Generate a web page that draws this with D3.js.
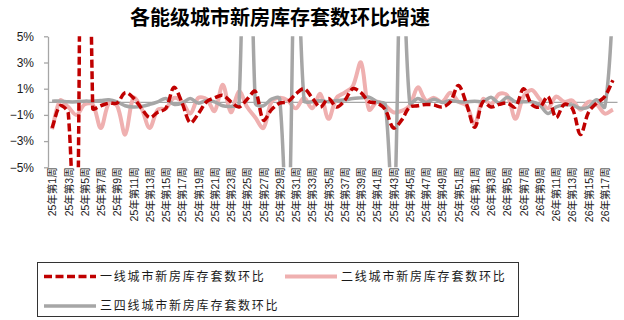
<!DOCTYPE html>
<html>
<head>
<meta charset="utf-8">
<script src="https://cdn.jsdelivr.net/npm/d3@7"></script>
<style>
  body { margin: 0; background: #fff; }
  svg { display: block; }
</style>
</head>
<body>
<svg id="chart" width="624" height="320"></svg>
<script>
// ---- data ----
const chartTitle = "各能级城市新房库存套数环比增速";

const categories = [
  "25年第1周","25年第2周","25年第3周","25年第4周","25年第5周","25年第6周","25年第7周","25年第8周","25年第9周","25年第10周",
  "25年第11周","25年第12周","25年第13周","25年第14周","25年第15周","25年第16周","25年第17周","25年第18周","25年第19周","25年第20周",
  "25年第21周","25年第22周","25年第23周","25年第24周","25年第25周","25年第26周","25年第27周","25年第28周","25年第29周","25年第30周",
  "25年第31周","25年第32周","25年第33周","25年第34周","25年第35周","25年第36周","25年第37周","25年第38周","25年第39周","25年第40周",
  "25年第41周","25年第42周","25年第43周","25年第44周","25年第45周","25年第46周","25年第47周","25年第48周","25年第49周","25年第50周",
  "25年第51周","25年第52周","26年第1周","26年第2周","26年第3周","26年第4周","26年第5周","26年第6周","26年第7周","26年第8周",
  "26年第9周","26年第10周","26年第11周","26年第12周","26年第13周","26年第14周","26年第15周","26年第16周","26年第17周","26年第18周"
];

// week-on-week change of new-home inventory units, %
const tier1 = [
  -2.0, -0.3, -0.9, -16, 60, -0.5, -0.3, -0.1, -0.1, 0.7,
  0.3, -0.5, -1.2, -0.8, -0.5, 1.1, -0.1, -1.6, -0.9, 0.0,
  0.3, 0.5, 0.0, -0.4, 0.2, 0.8, -1.4, -0.6, -0.1, 0.0,
  0.6, 1.0, 0.3, -0.4, 0.25, -0.4, 0.1, 1.0, 0.7, 0.0,
  -0.1, -0.6, -2.0, -1.4, -0.4, -0.3, -0.2, -0.25, -0.4, 0.0,
  1.25, -0.2, -1.95, 0.0, -0.4, -0.2, -0.1, -0.4, 1.0, -0.2,
  -0.4, 0.4, -1.2, -0.2, -0.5, -2.5, -0.8, -0.1, 0.4, 1.65
];
const tier2 = [
  -2.1, 0.1, -0.4, -1.0, -0.2, -0.2, -2.0, -0.1, -0.3, -2.5,
  0.3, -0.5, -2.0, -0.6, -0.5, 0.3, 0.0, -0.9, 0.3, 0.2,
  -0.7, 1.3, -0.8, 0.8, -0.4, -1.2, -2.0, 0.0, 0.3, 0.1,
  -0.5, 0.3, -0.5, 0.6, -1.3, 0.3, 0.7, 1.2, 3.0, -0.6,
  0.0, -0.3, -0.8, -0.7, -0.3, 1.1, 0.1, 0.3, 0.0, 0.7,
  0.0, -0.3, -1.7, 0.2, -0.2, 0.6, 0.5, -1.3, 0.4, 0.9,
  0.2, -0.5, 0.4, 0.0, 0.1, -0.6, 0.0, -0.2, -0.9, -0.6
];
const tier34 = [
  0.05, 0.05, 0.0, 0.0, 0.05, 0.05, 0.1, 0.15, 0.0, -0.3,
  -0.4, -0.35, -0.2, 0.0, 0.25, -0.2, -0.1, 0.25, -0.1, 0.1,
  0.0, -0.3, -0.35, -0.2, 28, -0.1, -0.3, 0.2, 0.25, -12,
  15, 0.1, 0.0, 0.1, 0.0, 0.1, 0.15, 0.25, 0.3, 0.35,
  0.0, -0.2, -10, 13, -0.1, 0.25, -0.05, 0.2, -0.05, 0.1,
  0.0, 0.0, 0.05, 0.0, 0.35, -0.1, 0.35, 0.0, 0.0, 0.0,
  -0.25, -0.9, -0.4, -0.25, -0.25, -0.5, -0.4, 0.15, -0.4, 7
];

const seriesNames = ["一线城市新房库存套数环比", "二线城市新房库存套数环比", "三四线城市新房库存套数环比"];
const yTicks = [5, 3, 1, -1, -3, -5];
const yTickLabels = ["5%", "3%", "1%", "−1%", "−3%", "−5%"];

// ---- smoothing: Bezier through every point, arms scaled by the adjacent chord lengths ----
function ChordSmooth(context) { this._context = context; }
ChordSmooth.prototype = {
  areaStart() {}, areaEnd() {},
  lineStart() { this._pts = []; },
  point(px, py) { this._pts.push([+px, +py]); },
  lineEnd() {
    const p = this._pts, n = p.length, c = this._context;
    if (!n) return;
    c.moveTo(p[0][0], p[0][1]);
    if (n === 1) return;
    const armIn = [], armOut = [];
    for (let i = 0; i < n; i++) {
      const prev = p[Math.max(i - 1, 0)], next = p[Math.min(i + 1, n - 1)];
      const tx = next[0] - prev[0], ty = next[1] - prev[1];
      const l1 = Math.hypot(p[i][0] - prev[0], p[i][1] - prev[1]);
      const l2 = Math.hypot(next[0] - p[i][0], next[1] - p[i][1]);
      const s = (l1 + l2) || 1;
      armIn.push([p[i][0] - tx * l1 / s / 3, p[i][1] - ty * l1 / s / 3]);
      armOut.push([p[i][0] + tx * l2 / s / 3, p[i][1] + ty * l2 / s / 3]);
    }
    for (let i = 1; i < n; i++) {
      c.bezierCurveTo(armOut[i - 1][0], armOut[i - 1][1], armIn[i][0], armIn[i][1], p[i][0], p[i][1]);
    }
  }
};
const chordSmooth = ctx => new ChordSmooth(ctx);

// ---- layout ----
const svg = d3.select("#chart");
const plot = { left: 48, right: 617, top: 36.3, bottom: 167.3 };
const latin = "'Liberation Sans', Arial, 'Noto Sans CJK SC', sans-serif";
const cjk = "'Noto Sans CJK SC', 'Liberation Sans', sans-serif";
const axisGrey = "#a6a6a6";
const colors = { tier1: "#c00000", tier2: "#efb0b0", tier34: "#a6a6a6" };

const x = d3.scalePoint().domain(categories).range([plot.left, plot.right]).padding(0.5);
const y = d3.scaleLinear().domain([-5, 5]).range([plot.bottom, plot.top]);

// title
svg.append("text")
  .attr("x", 280).attr("y", 24.5)
  .attr("text-anchor", "middle")
  .attr("font-family", cjk).attr("font-weight", 700).attr("font-size", 20)
  .attr("fill", "#000")
  .text(chartTitle);

// y axis
const yAxis = svg.append("g")
  .attr("transform", `translate(${plot.left},0)`)
  .call(d3.axisLeft(y).tickValues(yTicks).tickSize(4).tickSizeOuter(0).tickPadding(10)
    .tickFormat((d, i) => yTickLabels[i]));
yAxis.select(".domain").attr("stroke", axisGrey).attr("stroke-width", 1.3);
yAxis.selectAll(".tick line").attr("stroke", axisGrey).attr("stroke-width", 1.3);
yAxis.selectAll(".tick text").attr("font-family", latin).attr("font-size", 12).attr("fill", "#1a1a1a");

// zero line (category axis)
const xAxis = svg.append("g")
  .attr("transform", `translate(0,${y(0)})`)
  .call(d3.axisBottom(x).tickValues([]).tickSizeOuter(0));
xAxis.select(".domain").attr("stroke", axisGrey).attr("stroke-width", 1.3);

// category labels, every other week, rotated, hung under the plot area
const labelG = svg.append("g");
categories.forEach((c, i) => {
  if (i % 2 !== 0) return;
  labelG.append("text")
    .attr("transform", `translate(${x(c) + 0.5},${plot.bottom}) rotate(-90)`)
    .attr("text-anchor", "end")
    .attr("dy", "0.35em")
    .attr("font-family", latin).attr("font-size", 10.5).attr("fill", "#1a1a1a")
    .text(c);
});

// series lines
svg.append("clipPath").attr("id", "plotClip")
  .append("rect")
  .attr("x", plot.left).attr("y", plot.top)
  .attr("width", plot.right - plot.left).attr("height", plot.bottom - plot.top);

const line = d3.line()
  .x((d, i) => x(categories[i]))
  .y(d => y(d))
  .curve(chordSmooth);

const series = [
  { values: tier2, color: colors.tier2, width: 4, dash: null },
  { values: tier34, color: colors.tier34, width: 3.5, dash: null },
  { values: tier1, color: colors.tier1, width: 3.5, dash: "8,3.5" }
];

const lines = svg.append("g").attr("clip-path", "url(#plotClip)");
series.forEach(s => {
  lines.append("path")
    .datum(s.values)
    .attr("fill", "none")
    .attr("stroke", s.color)
    .attr("stroke-width", s.width)
    .attr("stroke-dasharray", s.dash)
    .attr("stroke-linejoin", "round")
    .attr("d", line);
});

// legend
const legend = svg.append("g");
legend.append("rect")
  .attr("x", 37.5).attr("y", 262.5).attr("width", 481).attr("height", 54)
  .attr("fill", "#fff").attr("stroke", "#333").attr("stroke-width", 1);

const legendItems = [
  { name: seriesNames[0], color: colors.tier1, width: 3.5, dash: "8,3.5", x: 44, y: 276.5 },
  { name: seriesNames[1], color: colors.tier2, width: 4, dash: null, x: 285, y: 276.5 },
  { name: seriesNames[2], color: colors.tier34, width: 3.5, dash: null, x: 44, y: 306 }
];
legendItems.forEach(it => {
  legend.append("line")
    .attr("x1", it.x).attr("x2", it.x + 52)
    .attr("y1", it.y).attr("y2", it.y)
    .attr("stroke", it.color).attr("stroke-width", it.width)
    .attr("stroke-dasharray", it.dash);
  legend.append("text")
    .attr("x", it.x + 56).attr("y", it.y)
    .attr("dy", "0.36em")
    .attr("font-family", cjk).attr("font-size", 12).attr("letter-spacing", 1.8)
    .attr("fill", "#1a1a1a")
    .text(it.name);
});
</script>
</body>
</html>
